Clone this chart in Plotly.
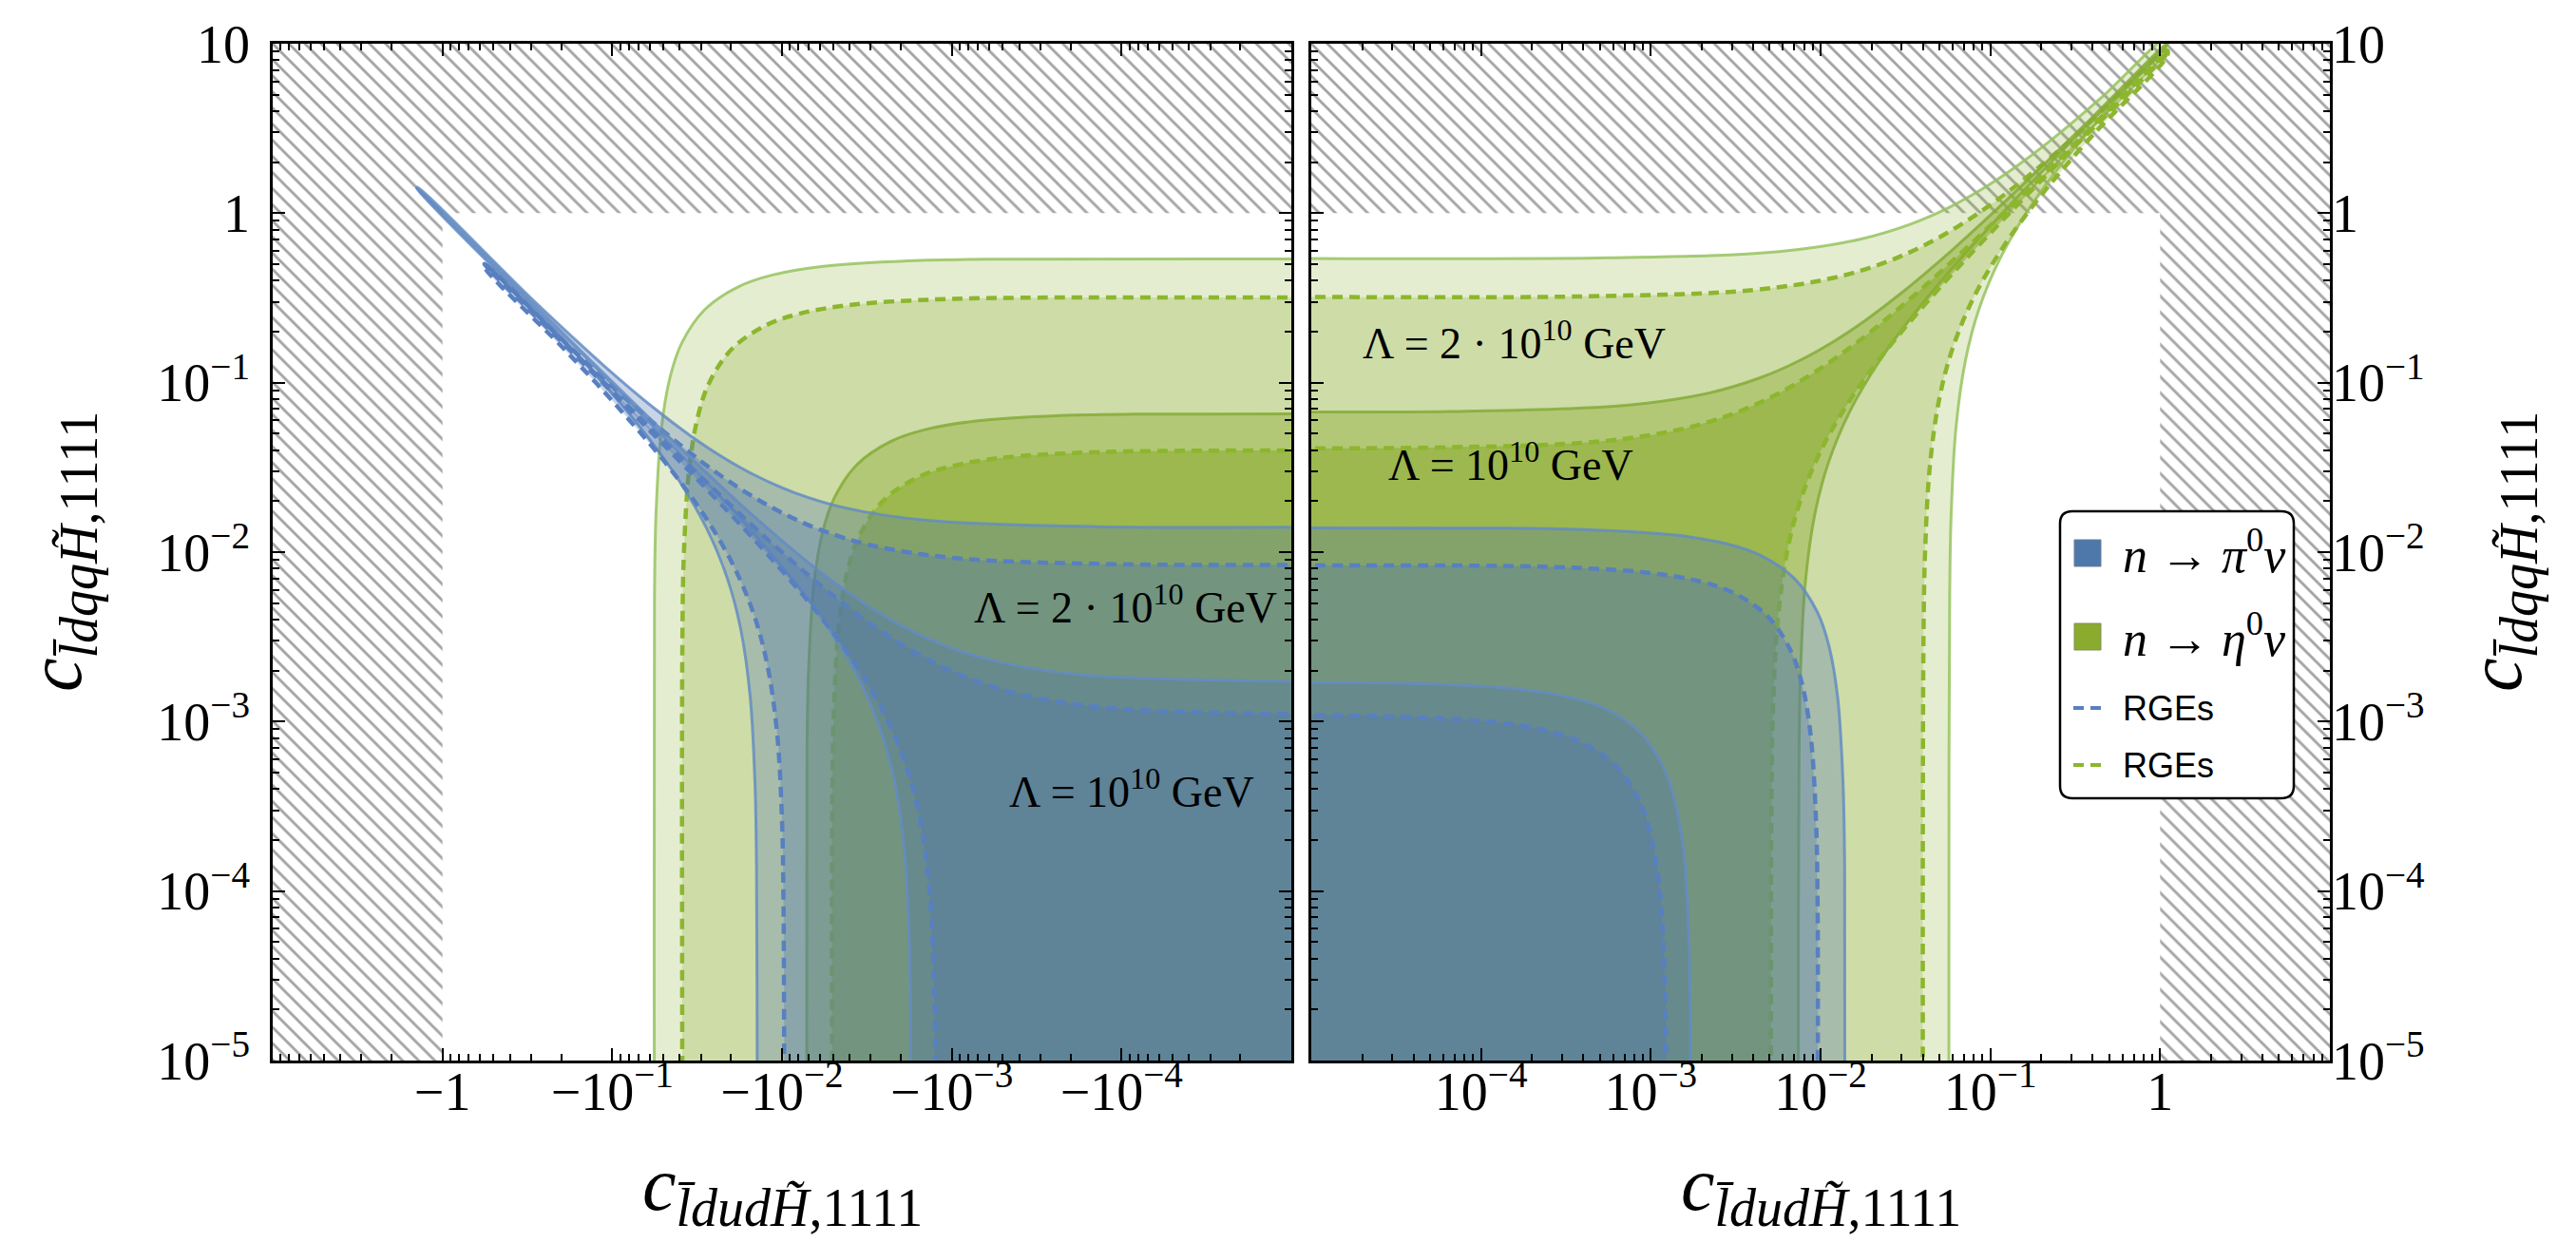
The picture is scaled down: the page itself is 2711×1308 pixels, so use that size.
import plotly.graph_objects as go

# ---------------------------------------------------------------- data ----
# axis ticks
TICK_DECADES = [1e-5, 1e-4, 1e-3, 1e-2, 1e-1, 1, 10]
Y_TICK_TEXT = ["10<sup>−5</sup>", "10<sup>−4</sup>", "10<sup>−3</sup>", "10<sup>−2</sup>",
               "10<sup>−1</sup>", "1", "10"]
XL_TICK_TEXT = ["", "−10<sup>−4</sup>", "−10<sup>−3</sup>", "−10<sup>−2</sup>",
                "−10<sup>−1</sup>", "−1", ""]
XR_TICK_TEXT = ["", "10<sup>−4</sup>", "10<sup>−3</sup>", "10<sup>−2</sup>",
                "10<sup>−1</sup>", "1", ""]
EXCLUDED_ABOVE = 1.0          # |c| > 1 is hatched

# ---- n -> pi0 nu, right panel (c_ldudH > 0): boundary curves
PI_R_2E10_X = [0.00014, 0.000442, 0.0014, 0.0028, 0.00442, 0.007, 0.00958, 0.0112, 0.0126, 0.01355, 0.01386]
PI_R_2E10_Y = [0.01386, 0.01355, 0.0126, 0.0112, 0.00958, 0.007, 0.00442, 0.0028, 0.0014, 0.000442, 0.00014]
PI_R_2E10_RGE_X = [0.000097, 0.000307, 0.00097, 0.00194, 0.00307, 0.00485, 0.00663, 0.00776, 0.00873, 0.00939, 0.0096]
PI_R_2E10_RGE_Y = [0.00832, 0.00813, 0.00756, 0.00672, 0.00575, 0.0042, 0.00265, 0.00168, 0.00084, 0.000265, 0.000084]
PI_R_1E10_X = [0.0000173, 0.0000547, 0.000173, 0.000346, 0.000547, 0.000865, 0.00118, 0.00138, 0.00156, 0.00167, 0.00171]
PI_R_1E10_Y = [0.0017, 0.00166, 0.00155, 0.00138, 0.00118, 0.00086, 0.000544, 0.000344, 0.000172, 0.0000544, 0.0000172]
PI_R_1E10_RGE_X = [0.0000124, 0.0000392, 0.000124, 0.000248, 0.000392, 0.00062, 0.000848, 0.000992, 0.00112, 0.0012, 0.00123]
PI_R_1E10_RGE_Y = [0.00109, 0.00106, 0.00099, 0.00088, 0.000752, 0.00055, 0.000348, 0.00022, 0.00011, 0.0000348, 0.000011]

# ---- n -> pi0 nu, left panel (c_ldudH < 0): upper / lower edges of the bands
PI_L_2E10_UP_X = [-0.00014, -0.0014, -0.0042, -0.0084, -0.014, -0.0224, -0.035, -0.056, -0.112, -0.28, -1.41]
PI_L_2E10_UP_Y = [0.01414, 0.0154, 0.0182, 0.0224, 0.028, 0.0364, 0.049, 0.07, 0.126, 0.294, 1.424]
PI_L_2E10_LO_X = [-1.41, -0.28, -0.14, -0.07, -0.042, -0.028, -0.021, -0.0175, -0.0154, -0.01442, -0.01414, -0.014014]
PI_L_2E10_LO_Y = [1.396, 0.266, 0.126, 0.056, 0.028, 0.014, 0.007, 0.0035, 0.0014, 0.00042, 0.00014, 0.000014]
PI_L_2E10_RGE_UP_X = [-0.000097, -0.00097, -0.00291, -0.00582, -0.0097, -0.01552, -0.02425, -0.0388, -0.0776, -0.194, -0.565]
PI_L_2E10_RGE_UP_Y = [0.00848, 0.00924, 0.01092, 0.01344, 0.0168, 0.02184, 0.0294, 0.042, 0.0756, 0.1764, 0.497]
PI_L_2E10_RGE_LO_X = [-0.565, -0.194, -0.097, -0.0485, -0.0291, -0.0194, -0.01455, -0.01213, -0.01067, -0.00999, -0.0098, -0.00971]
PI_L_2E10_RGE_LO_Y = [0.48, 0.1596, 0.0756, 0.0336, 0.0168, 0.0084, 0.0042, 0.0021, 0.00084, 0.000252, 0.000084, 0.0000084]
PI_L_1E10_UP_X = [-0.0000173, -0.000173, -0.000519, -0.00104, -0.00173, -0.00277, -0.00433, -0.00692, -0.01384, -0.0346, -0.1384, -1.41]
PI_L_1E10_UP_Y = [0.00174, 0.00189, 0.00224, 0.00275, 0.00344, 0.00447, 0.00602, 0.0086, 0.01548, 0.0361, 0.1393, 1.403]
PI_L_1E10_LO_X = [-1.41, -0.1384, -0.0346, -0.0173, -0.00865, -0.00519, -0.00346, -0.0026, -0.00216, -0.0019, -0.00178, -0.00175, -0.001732]
PI_L_1E10_LO_Y = [1.40, 0.1359, 0.0327, 0.01548, 0.00688, 0.00344, 0.00172, 0.00086, 0.00043, 0.000172, 0.0000516, 0.0000172, 0.00000172]
PI_L_1E10_RGE_UP_X = [-0.0000124, -0.000124, -0.000372, -0.000744, -0.00124, -0.00198, -0.0031, -0.00496, -0.00992, -0.0248, -0.0992, -0.565]
PI_L_1E10_RGE_UP_Y = [0.001111, 0.00121, 0.00143, 0.00176, 0.0022, 0.00286, 0.00385, 0.0055, 0.0099, 0.0231, 0.0891, 0.502]
PI_L_1E10_RGE_LO_X = [-0.565, -0.0992, -0.0248, -0.0124, -0.0062, -0.00372, -0.00248, -0.00186, -0.00155, -0.001364, -0.001277, -0.001252, -0.001241]
PI_L_1E10_RGE_LO_Y = [0.5, 0.0869, 0.0209, 0.0099, 0.0044, 0.0022, 0.0011, 0.00055, 0.000275, 0.00011, 0.000033, 0.000011, 0.0000011]

# ---- n -> eta0 nu, left panel (c_ldudH < 0): boundary curves
ETA_L_2E10_X = [-0.00057, -0.0018, -0.0057, -0.0114, -0.018, -0.0285, -0.039, -0.0456, -0.0513, -0.0552, -0.0564]
ETA_L_2E10_Y = [0.535, 0.523, 0.486, 0.432, 0.369, 0.27, 0.171, 0.108, 0.054, 0.0171, 0.0054]
ETA_L_2E10_RGE_X = [-0.00039, -0.00123, -0.0039, -0.0078, -0.0123, -0.0195, -0.0267, -0.0312, -0.0351, -0.0378, -0.0386]
ETA_L_2E10_RGE_Y = [0.317, 0.31, 0.288, 0.256, 0.219, 0.16, 0.101, 0.064, 0.032, 0.0101, 0.0032]
ETA_L_1E10_X = [-0.000072, -0.000228, -0.00072, -0.00144, -0.00228, -0.0036, -0.00492, -0.00576, -0.00648, -0.00697, -0.00713]
ETA_L_1E10_Y = [0.0653, 0.0639, 0.0594, 0.0528, 0.0451, 0.033, 0.0209, 0.0132, 0.0066, 0.00209, 0.00066]
ETA_L_1E10_RGE_X = [-0.000051, -0.000161, -0.00051, -0.00102, -0.00161, -0.00255, -0.00349, -0.00408, -0.00459, -0.00494, -0.00505]
ETA_L_1E10_RGE_Y = [0.0396, 0.0387, 0.036, 0.032, 0.0274, 0.02, 0.0126, 0.008, 0.004, 0.00126, 0.0004]

# ---- n -> eta0 nu, right panel (c_ldudH > 0): upper / lower edges of the bands
ETA_R_2E10_UP_X = [0.00057, 0.0057, 0.0171, 0.0342, 0.057, 0.0912, 0.1425, 0.228, 0.456, 1.1]
ETA_R_2E10_UP_Y = [0.545, 0.594, 0.702, 0.864, 1.08, 1.404, 1.89, 2.7, 4.86, 10.96]
ETA_R_2E10_LO_X = [1.1, 0.57, 0.285, 0.171, 0.114, 0.0855, 0.0713, 0.0627, 0.0587, 0.0576, 0.05706]
ETA_R_2E10_LO_Y = [9.88, 4.86, 2.16, 1.08, 0.54, 0.27, 0.135, 0.054, 0.0162, 0.0054, 0.00054]
ETA_R_2E10_RGE_UP_X = [0.0004, 0.004, 0.012, 0.024, 0.04, 0.064, 0.1, 0.16, 0.32, 1.1]
ETA_R_2E10_RGE_UP_Y = [0.323, 0.352, 0.416, 0.512, 0.64, 0.832, 1.12, 1.6, 2.88, 9.12]
ETA_R_2E10_RGE_LO_X = [1.1, 0.4, 0.2, 0.12, 0.08, 0.06, 0.05, 0.044, 0.0412, 0.0404, 0.04004]
ETA_R_2E10_RGE_LO_Y = [8.48, 2.88, 1.28, 0.64, 0.32, 0.16, 0.08, 0.032, 0.0096, 0.0032, 0.00032]
ETA_R_1E10_UP_X = [0.000074, 0.00074, 0.00222, 0.00444, 0.0074, 0.01184, 0.0185, 0.0296, 0.0592, 0.148, 0.37, 1.1]
ETA_R_1E10_UP_Y = [0.0677, 0.0737, 0.0871, 0.1072, 0.134, 0.1742, 0.2345, 0.335, 0.603, 1.407, 3.417, 10.02]
ETA_R_1E10_LO_X = [1.1, 0.37, 0.148, 0.074, 0.037, 0.0222, 0.0148, 0.0111, 0.00925, 0.00814, 0.00762, 0.00747, 0.0074]
ETA_R_1E10_LO_Y = [9.89, 3.283, 1.273, 0.603, 0.268, 0.134, 0.067, 0.0335, 0.01675, 0.0067, 0.00201, 0.00067, 0.000067]
ETA_R_1E10_RGE_UP_X = [0.000051, 0.00051, 0.00153, 0.00306, 0.0051, 0.00816, 0.01275, 0.0204, 0.0408, 0.102, 0.255, 1.1]
ETA_R_1E10_RGE_UP_Y = [0.0414, 0.0451, 0.0533, 0.0656, 0.082, 0.1066, 0.1435, 0.205, 0.369, 0.861, 2.091, 8.88]
ETA_R_1E10_RGE_LO_X = [1.1, 0.255, 0.102, 0.051, 0.0255, 0.0153, 0.0102, 0.00765, 0.00638, 0.00561, 0.00525, 0.00515, 0.0051]
ETA_R_1E10_RGE_LO_Y = [8.80, 2.009, 0.779, 0.369, 0.164, 0.082, 0.041, 0.0205, 0.01025, 0.0041, 0.00123, 0.00041, 0.000041]

# ------------------------------------------------------------- styling ----
W, H = 2711, 1308
PL, PR, PT, PB = 279, 2444, 38, 1108          # plot frame in pixels
SERIF = "Liberation Serif, Times New Roman, serif"
SANS = "Liberation Sans, Arial, sans-serif"

GREEN = (138, 171, 46)
BLUE = (75, 115, 175)
GREEN_ALPHA = [0.22, 0.25, 0.40, 0.55]
BLUE_ALPHA = [0.30, 0.30, 0.30, 0.30]
DASH = "11px,7px"

FAR, NEAR = 1e-8, 1e-6   # closure points, outside the visible range


def px(x):
    return (x - PL) / (PR - PL)


def py(y):
    return (PB - y) / (PB - PT)


def rgba(c, a):
    return "rgba(%d,%d,%d,%.3f)" % (c[0], c[1], c[2], a)


def closed(xs, ys):
    X = [FAR, NEAR] + list(xs) + [xs[-1], xs[-1], FAR]
    Y = [ys[0], ys[0]] + list(ys) + [NEAR, FAR, FAR]
    return X, Y


fig = go.Figure()

# hatched (excluded) areas
lim = EXCLUDED_ABOVE
hatch = dict(shape="\\", size=12, solidity=0.24, fgcolor="#a4a4a4",
             bgcolor="rgba(0,0,0,0)", fgopacity=1)
fig.add_trace(go.Scatter(x=[100, lim, lim, FAR, FAR, 100], y=[FAR, FAR, lim, lim, 100, 100],
                         mode="none", fill="toself", fillcolor="rgba(0,0,0,0)",
                         fillpattern=hatch, xaxis="x", yaxis="y",
                         hoverinfo="skip", showlegend=False))
fig.add_trace(go.Scatter(x=[FAR, lim, lim, 100, 100, FAR], y=[lim, lim, FAR, FAR, 100, 100],
                         mode="none", fill="toself", fillcolor="rgba(0,0,0,0)",
                         fillpattern=hatch, xaxis="x2", yaxis="y2",
                         hoverinfo="skip", showlegend=False))


def region(xs, ys, left, fillc, linec, lw, dash):
    if left:
        xs = [-v for v in xs]
    X, Y = closed(xs, ys)
    fig.add_trace(go.Scatter(
        x=X, y=Y, mode="lines", fill="toself", fillcolor=fillc,
        line=dict(color=linec, width=lw, dash=dash, shape="spline", smoothing=1),
        xaxis="x" if left else "x2", yaxis="y" if left else "y2",
        hoverinfo="skip", showlegend=False))


green_lines = [("rgba(150,195,95,0.85)", 3, "solid"), ("rgb(140,182,45)", 4.5, DASH),
               ("rgba(132,172,55,0.85)", 3, "solid"), ("rgb(140,182,45)", 4.5, DASH)]
blue_lines = [("rgba(100,140,195,0.85)", 3, "solid"), ("rgb(88,128,192)", 4.5, DASH),
              ("rgba(100,140,195,0.85)", 3, "solid"), ("rgb(88,128,192)", 4.5, DASH)]

eta_left = [(ETA_L_2E10_X, ETA_L_2E10_Y), (ETA_L_2E10_RGE_X, ETA_L_2E10_RGE_Y),
            (ETA_L_1E10_X, ETA_L_1E10_Y), (ETA_L_1E10_RGE_X, ETA_L_1E10_RGE_Y)]
eta_right = [(ETA_R_2E10_UP_X + ETA_R_2E10_LO_X, ETA_R_2E10_UP_Y + ETA_R_2E10_LO_Y),
             (ETA_R_2E10_RGE_UP_X + ETA_R_2E10_RGE_LO_X, ETA_R_2E10_RGE_UP_Y + ETA_R_2E10_RGE_LO_Y),
             (ETA_R_1E10_UP_X + ETA_R_1E10_LO_X, ETA_R_1E10_UP_Y + ETA_R_1E10_LO_Y),
             (ETA_R_1E10_RGE_UP_X + ETA_R_1E10_RGE_LO_X, ETA_R_1E10_RGE_UP_Y + ETA_R_1E10_RGE_LO_Y)]
pi_left = [(PI_L_2E10_UP_X + PI_L_2E10_LO_X, PI_L_2E10_UP_Y + PI_L_2E10_LO_Y),
           (PI_L_2E10_RGE_UP_X + PI_L_2E10_RGE_LO_X, PI_L_2E10_RGE_UP_Y + PI_L_2E10_RGE_LO_Y),
           (PI_L_1E10_UP_X + PI_L_1E10_LO_X, PI_L_1E10_UP_Y + PI_L_1E10_LO_Y),
           (PI_L_1E10_RGE_UP_X + PI_L_1E10_RGE_LO_X, PI_L_1E10_RGE_UP_Y + PI_L_1E10_RGE_LO_Y)]
pi_right = [(PI_R_2E10_X, PI_R_2E10_Y), (PI_R_2E10_RGE_X, PI_R_2E10_RGE_Y),
            (PI_R_1E10_X, PI_R_1E10_Y), (PI_R_1E10_RGE_X, PI_R_1E10_RGE_Y)]

for i in range(4):
    c, w, d = green_lines[i]
    region(*eta_left[i], True, rgba(GREEN, GREEN_ALPHA[i]), c, w, d)
    region(*eta_right[i], False, rgba(GREEN, GREEN_ALPHA[i]), c, w, d)
for i in range(4):
    c, w, d = blue_lines[i]
    region(*pi_left[i], True, rgba(BLUE, BLUE_ALPHA[i]), c, w, d)
    region(*pi_right[i], False, rgba(BLUE, BLUE_ALPHA[i]), c, w, d)

# ------------------------------------------------------------- axes ----
MINOR = [m * 10.0 ** e for e in range(-5, 1) for m in range(2, 10)]
tickfont = dict(family=SERIF, size=56, color="black")
common = dict(type="log", showgrid=False, zeroline=False, showline=True,
              linecolor="black", linewidth=2.5, mirror="ticks", ticks="inside",
              ticklen=13, tickwidth=2, tickcolor="black", tickmode="array",
              tickvals=TICK_DECADES, tickfont=tickfont, automargin=False,
              minor=dict(tickmode="array", tickvals=MINOR, ticks="inside",
                         ticklen=7, tickwidth=1.5, tickcolor="black", showgrid=False))

fig.update_layout(
    width=W, height=H, paper_bgcolor="white", plot_bgcolor="white",
    margin=dict(l=PL, r=W - PR, t=PT, b=H - PB, pad=0),
    xaxis=dict(common, domain=[0, px(1351)], range=[1, -5], anchor="y",
               ticktext=XL_TICK_TEXT, ticklabelstandoff=-18),
    xaxis2=dict(common, domain=[px(1372), 1], range=[-5, 1], anchor="y2",
                ticktext=XR_TICK_TEXT, ticklabelstandoff=-18),
    yaxis=dict(common, domain=[0, 1], range=[-5, 1], anchor="x",
               ticktext=Y_TICK_TEXT, ticklabelstandoff=10),
    yaxis2=dict(common, domain=[0, 1], range=[-5, 1], anchor="x2", side="right",
                ticktext=Y_TICK_TEXT, ticklabelstandoff=-12),
    showlegend=False,
)

# ------------------------------------------------------------- texts ----
ann = []
XT = "<i>c</i><sub><i>l̄dudH̃</i>,1111</sub>"
YT = "<i>c</i><sub><i>l̄dqqH̃</i>,1111</sub>"
tfont = dict(family=SERIF, size=80, color="black")
ann.append(dict(text=XT, x=px(815), y=py(1244), xref="paper", yref="paper",
                xanchor="center", yanchor="middle", showarrow=False, font=tfont))
ann.append(dict(text=XT, x=px(1908), y=py(1244), xref="paper", yref="paper",
                xanchor="center", yanchor="middle", showarrow=False, font=tfont))
ann.append(dict(text=YT, x=px(56), y=py(573), xref="paper", yref="paper", textangle=-90,
                xanchor="center", yanchor="middle", showarrow=False, font=tfont))
ann.append(dict(text=YT, x=px(2624), y=py(573), xref="paper", yref="paper", textangle=-90,
                xanchor="center", yanchor="middle", showarrow=False, font=tfont))

lfont = dict(family=SERIF, size=46, color="black")
LAM2 = "Λ = 2 · 10<sup>10</sup> GeV"
LAM1 = "Λ = 10<sup>10</sup> GeV"
ann.append(dict(text=LAM2, x=px(1338), y=py(628), xref="paper", yref="paper",
                xanchor="right", yanchor="middle", showarrow=False, font=lfont))
ann.append(dict(text=LAM1, x=px(1314), y=py(822), xref="paper", yref="paper",
                xanchor="right", yanchor="middle", showarrow=False, font=lfont))
ann.append(dict(text=LAM2, x=px(1424), y=py(350), xref="paper", yref="paper",
                xanchor="left", yanchor="middle", showarrow=False, font=lfont))
ann.append(dict(text=LAM1, x=px(1451), y=py(478), xref="paper", yref="paper",
                xanchor="left", yanchor="middle", showarrow=False, font=lfont))

# ------------------------------------------------------------- legend ----
shapes = []
x0, x1, y0, y1 = px(2160), px(2406), py(530), py(832)
rx, ry = 13 / (PR - PL), 13 / (PB - PT)
path = ("M %f,%f L %f,%f Q %f,%f %f,%f L %f,%f Q %f,%f %f,%f L %f,%f Q %f,%f %f,%f "
        "L %f,%f Q %f,%f %f,%f Z") % (
    x0 + rx, y0, x1 - rx, y0, x1, y0, x1, y0 - ry, x1, y1 + ry, x1, y1, x1 - rx, y1,
    x0 + rx, y1, x0, y1, x0, y1 + ry, x0, y0 - ry, x0, y0, x0 + rx, y0)
shapes.append(dict(type="path", path=path, xref="paper", yref="paper",
                   fillcolor="white", line=dict(color="black", width=2.5), layer="above"))
shapes.append(dict(type="rect", x0=px(2175), x1=px(2203), y0=py(560), y1=py(588),
                   xref="paper", yref="paper", fillcolor="#4F78AA",
                   line=dict(color="#6b7f99", width=1), layer="above"))
shapes.append(dict(type="rect", x0=px(2175), x1=px(2203), y0=py(648), y1=py(676),
                   xref="paper", yref="paper", fillcolor="#8AAB2E",
                   line=dict(color="#7f9160", width=1), layer="above"))
shapes.append(dict(type="line", x0=px(2174), x1=px(2204), y0=py(737), y1=py(737),
                   xref="paper", yref="paper", layer="above",
                   line=dict(color="rgb(88,128,192)", width=4, dash=DASH)))
shapes.append(dict(type="line", x0=px(2174), x1=px(2204), y0=py(797), y1=py(797),
                   xref="paper", yref="paper", layer="above",
                   line=dict(color="rgb(140,182,45)", width=4, dash=DASH)))

legfont = dict(family=SERIF, size=52, color="black")
ann.append(dict(text="<i>n</i> → <i>π</i><sup>0</sup><i>ν</i>",
                x=px(2224), y=py(572), xref="paper", yref="paper", xanchor="left",
                yanchor="middle", showarrow=False, font=legfont))
ann.append(dict(text="<i>n</i> → <i>η</i><sup>0</sup><i>ν</i>",
                x=px(2224), y=py(660), xref="paper", yref="paper", xanchor="left",
                yanchor="middle", showarrow=False, font=legfont))
ann.append(dict(text="RGEs", x=px(2224), y=py(737), xref="paper", yref="paper",
                xanchor="left", yanchor="middle", showarrow=False,
                font=dict(family=SANS, size=36, color="black")))
ann.append(dict(text="RGEs", x=px(2224), y=py(797), xref="paper", yref="paper",
                xanchor="left", yanchor="middle", showarrow=False,
                font=dict(family=SANS, size=36, color="black")))

fig.update_layout(annotations=ann, shapes=shapes)
fig.write_html("out.html")
